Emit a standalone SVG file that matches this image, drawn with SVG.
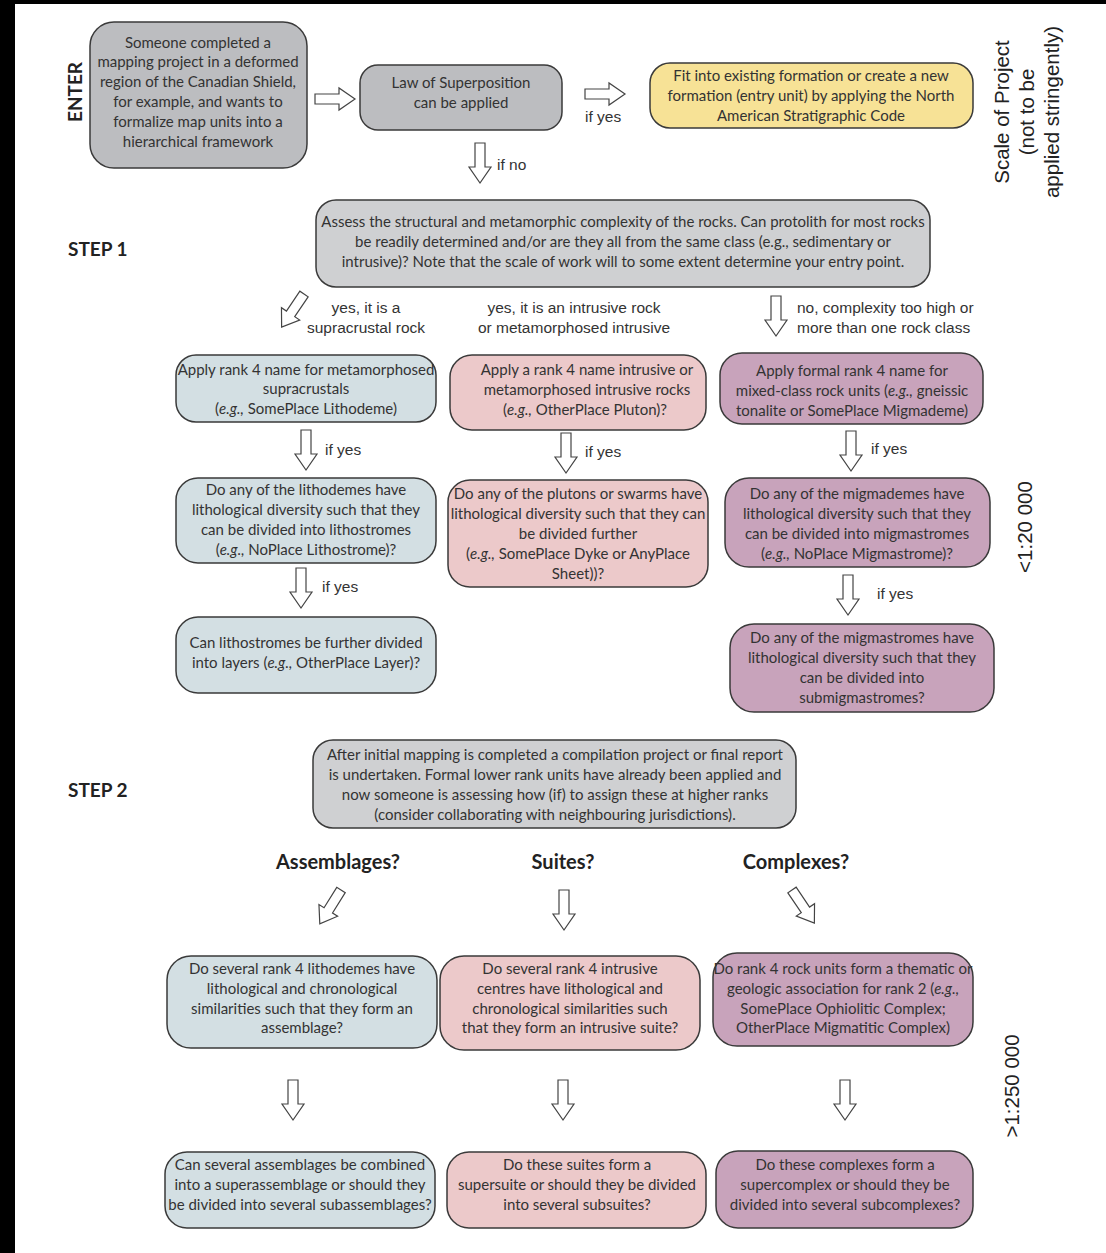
<svg xmlns="http://www.w3.org/2000/svg" xmlns:xlink="http://www.w3.org/1999/xlink" width="1106" height="1253" viewBox="0 0 1106 1253">
<style>
.box{stroke:#3a3a3a;stroke-width:1.5}
.gray{fill:#bcbdc0}
.lgray{fill:#cfd0d2}
.yel{fill:#f7e296}
.blue{fill:#d3dfe3}
.pink{fill:#ecc9ca}
.mauve{fill:#c8a3bb}
.t{font-family:Lato,"Open Sans",sans-serif;font-size:15px;fill:#333;text-anchor:middle}
.lab{font-family:"Liberation Sans",Arial,sans-serif;font-size:15.5px;fill:#333}
.step{font-family:Lato,"Open Sans",sans-serif;font-size:19px;font-weight:bold;fill:#222}
.hdr{font-family:Lato,"Open Sans",sans-serif;font-size:20px;font-weight:bold;fill:#222;text-anchor:middle}
.scale{font-family:"Liberation Sans",Arial,sans-serif;font-size:20.5px;fill:#222;text-anchor:middle}
.arr{fill:#fff;stroke:#444;stroke-width:1.2}
</style>
<defs>
<path id="ar" class="arr" d="M0,-5 L24,-5 L24,-11 L40,0 L24,11 L24,5 L0,5 Z"/>
</defs>
<rect x="0" y="0" width="1106" height="1253" fill="#fff"/>
<rect x="0" y="0" width="1106" height="4" fill="#000"/>
<rect x="0" y="0" width="15" height="1253" fill="#000"/>

<text class="step" transform="translate(82,92) rotate(-90)" text-anchor="middle">ENTER</text>
<text class="step" x="68" y="256">STEP 1</text>
<text class="step" x="68" y="797">STEP 2</text>

<g id="scale-title">
<text class="scale" transform="translate(1009,112) rotate(-90)">Scale of Project</text>
<text class="scale" transform="translate(1034,112) rotate(-90)">(not to be</text>
<text class="scale" transform="translate(1059,112) rotate(-90)">applied stringently)</text>
</g>
<text class="scale" transform="translate(1032,527) rotate(-90)">&lt;1:20 000</text>
<text class="scale" transform="translate(1019,1086) rotate(-90)">&gt;1:250 000</text>

<g id="connectors">
<use href="#ar" transform="translate(315,99)" />
<use href="#ar" transform="translate(585,94)" />
<use href="#ar" transform="translate(480,143) rotate(90)" />
<use href="#ar" transform="translate(304,294) rotate(124)" />
<use href="#ar" transform="translate(776,296) rotate(90)" />
<use href="#ar" transform="translate(306,430) rotate(90)" />
<use href="#ar" transform="translate(301,568) rotate(90)" />
<use href="#ar" transform="translate(566,433) rotate(90)" />
<use href="#ar" transform="translate(851,431) rotate(90)" />
<use href="#ar" transform="translate(848,575) rotate(90)" />
<use href="#ar" transform="translate(341,890) rotate(122)" />
<use href="#ar" transform="translate(564,890) rotate(90)" />
<use href="#ar" transform="translate(792,890) rotate(56)" />
<use href="#ar" transform="translate(293,1080) rotate(90)" />
<use href="#ar" transform="translate(563,1080) rotate(90)" />
<use href="#ar" transform="translate(845,1080) rotate(90)" />
<text class="lab" x="585" y="122">if yes</text>
<text class="lab" x="497" y="170">if no</text>
<text class="lab" x="366" y="313" text-anchor="middle">yes, it is a</text>
<text class="lab" x="366" y="333" text-anchor="middle">supracrustal rock</text>
<text class="lab" x="574" y="313" text-anchor="middle">yes, it is an intrusive rock</text>
<text class="lab" x="574" y="333" text-anchor="middle">or metamorphosed intrusive</text>
<text class="lab" x="797" y="313">no, complexity too high or</text>
<text class="lab" x="797" y="333">more than one rock class</text>
<text class="lab" x="325" y="455">if yes</text>
<text class="lab" x="322" y="592">if yes</text>
<text class="lab" x="585" y="457">if yes</text>
<text class="lab" x="871" y="454">if yes</text>
<text class="lab" x="877" y="599">if yes</text>
</g>

<g id="enter">
<rect class="box gray" x="90" y="22" width="217" height="146" rx="24"/>
<text class="t" x="198" y="48">Someone completed a</text>
<text class="t" x="198" y="67">mapping project in a deformed</text>
<text class="t" x="198" y="87">region of the Canadian Shield,</text>
<text class="t" x="198" y="107">for example,  and wants to</text>
<text class="t" x="198" y="127">formalize map units into a</text>
<text class="t" x="198" y="147">hierarchical framework</text>
</g>
<g id="law">
<rect class="box gray" x="360" y="65" width="202" height="65" rx="18"/>
<text class="t" x="461" y="88">Law of Superposition</text>
<text class="t" x="461" y="108">can be applied</text>
</g>
<g id="fit">
<rect class="box yel" x="650" y="63" width="323" height="65" rx="20"/>
<text class="t" x="811" y="81">Fit into existing formation or create a new</text>
<text class="t" x="811" y="101">formation (entry unit) by applying the North</text>
<text class="t" x="811" y="121">American Stratigraphic Code</text>
</g>
<g id="assess">
<rect class="box lgray" x="316" y="200" width="614" height="87" rx="20"/>
<text class="t" x="623" y="227">Assess the structural and metamorphic complexity of the rocks. Can protolith for most rocks</text>
<text class="t" x="623" y="247">be readily determined and/or are they all from the same class (e.g., sedimentary or</text>
<text class="t" x="623" y="267">intrusive)? Note that the scale of work will to some extent determine your entry point.</text>
</g>

<g id="a1">
<rect class="box blue" x="176" y="355" width="260" height="67" rx="20"/>
<text class="t" x="306" y="375">Apply rank 4 name for metamorphosed</text>
<text class="t" x="306" y="394">supracrustals</text>
<text class="t" x="306" y="414">(<tspan font-style="italic">e.g.,</tspan>  SomePlace Lithodeme)</text>
</g>
<g id="a2">
<rect class="box blue" x="176" y="478" width="260" height="85" rx="22"/>
<text class="t" x="306" y="495">Do any of the lithodemes have</text>
<text class="t" x="306" y="515">lithological diversity such that they</text>
<text class="t" x="306" y="535">can be divided into lithostromes</text>
<text class="t" x="306" y="555">(<tspan font-style="italic">e.g.,</tspan> NoPlace Lithostrome)?</text>
</g>
<g id="a3">
<rect class="box blue" x="176" y="617" width="260" height="76" rx="22"/>
<text class="t" x="306" y="648">Can lithostromes be further divided</text>
<text class="t" x="306" y="668">into layers (<tspan font-style="italic">e.g.,</tspan> OtherPlace Layer)?</text>
</g>

<g id="b1">
<rect class="box pink" x="450" y="355" width="256" height="75" rx="22"/>
<text class="t" x="587" y="375">Apply a rank 4 name intrusive or</text>
<text class="t" x="587" y="395">metamorphosed intrusive rocks</text>
<text class="t" x="585" y="415">(<tspan font-style="italic">e.g.,</tspan>  OtherPlace Pluton)?</text>
</g>
<g id="b2">
<rect class="box pink" x="448" y="480" width="260" height="107" rx="22"/>
<text class="t" x="578" y="499">Do any of the plutons or swarms have</text>
<text class="t" x="578" y="519">lithological diversity such that they can</text>
<text class="t" x="578" y="539">be divided further</text>
<text class="t" x="578" y="559">(<tspan font-style="italic">e.g.,</tspan> SomePlace Dyke or AnyPlace</text>
<text class="t" x="578" y="579">Sheet))?</text>
</g>

<g id="c1">
<rect class="box mauve" x="720" y="353" width="263" height="71" rx="22"/>
<text class="t" x="852" y="376">Apply formal rank 4 name for</text>
<text class="t" x="852" y="396">mixed-class rock units (<tspan font-style="italic">e.g.,</tspan> gneissic</text>
<text class="t" x="852" y="416">tonalite or SomePlace Migmademe)</text>
</g>
<g id="c2">
<rect class="box mauve" x="725" y="478" width="265" height="89" rx="24"/>
<text class="t" x="857" y="499">Do any of the migmademes have</text>
<text class="t" x="857" y="519">lithological diversity such that they</text>
<text class="t" x="857" y="539">can be divided into migmastromes</text>
<text class="t" x="857" y="559">(<tspan font-style="italic">e.g.,</tspan> NoPlace Migmastrome)?</text>
</g>
<g id="c3">
<rect class="box mauve" x="730" y="624" width="264" height="88" rx="24"/>
<text class="t" x="862" y="643">Do any of the migmastromes have</text>
<text class="t" x="862" y="663">lithological diversity such that they</text>
<text class="t" x="862" y="683">can be divided into</text>
<text class="t" x="862" y="703">submigmastromes?</text>
</g>

<g id="step2">
<rect class="box lgray" x="313" y="740" width="483" height="88" rx="20"/>
<text class="t" x="555" y="760">After initial mapping is completed a compilation project or final report</text>
<text class="t" x="555" y="780">is undertaken. Formal lower rank units have already been applied and</text>
<text class="t" x="555" y="800">now someone is assessing how (if) to assign these at higher ranks</text>
<text class="t" x="555" y="820">(consider collaborating with neighbouring jurisdictions).</text>
</g>
<text class="hdr" x="338" y="869">Assemblages?</text>
<text class="hdr" x="563" y="869">Suites?</text>
<text class="hdr" x="796" y="869">Complexes?</text>

<g id="e1">
<rect class="box blue" x="167" y="956" width="270" height="92" rx="24"/>
<text class="t" x="302" y="974">Do several rank 4 lithodemes have</text>
<text class="t" x="302" y="994">lithological and chronological</text>
<text class="t" x="302" y="1014">similarities such that they form an</text>
<text class="t" x="302" y="1033">assemblage?</text>
</g>
<g id="e2">
<rect class="box pink" x="440" y="956" width="260" height="94" rx="24"/>
<text class="t" x="570" y="974">Do several rank 4 intrusive</text>
<text class="t" x="570" y="994">centres have lithological and</text>
<text class="t" x="570" y="1014">chronological similarities such</text>
<text class="t" x="570" y="1033">that they form an intrusive suite?</text>
</g>
<g id="e3">
<rect class="box mauve" x="713" y="953" width="260" height="93" rx="24"/>
<text class="t" x="843" y="974">Do rank 4 rock units form a thematic or</text>
<text class="t" x="843" y="994">geologic association for rank 2 (<tspan font-style="italic">e.g.,</tspan></text>
<text class="t" x="843" y="1014">SomePlace Ophiolitic Complex;</text>
<text class="t" x="843" y="1033">OtherPlace Migmatitic Complex)</text>
</g>

<g id="f1">
<rect class="box blue" x="165" y="1152" width="270" height="76" rx="22"/>
<text class="t" x="300" y="1170">Can several assemblages be combined</text>
<text class="t" x="300" y="1190">into a superassemblage or should they</text>
<text class="t" x="300" y="1210">be divided into several subassemblages?</text>
</g>
<g id="f2">
<rect class="box pink" x="447" y="1152" width="259" height="76" rx="22"/>
<text class="t" x="577" y="1170">Do these suites form a</text>
<text class="t" x="577" y="1190">supersuite or should they be divided</text>
<text class="t" x="577" y="1210">into several subsuites?</text>
</g>
<g id="f3">
<rect class="box mauve" x="716" y="1151" width="257" height="77" rx="22"/>
<text class="t" x="845" y="1170">Do these complexes form a</text>
<text class="t" x="845" y="1190">supercomplex or should they be</text>
<text class="t" x="845" y="1210">divided into several subcomplexes?</text>
</g>
</svg>
